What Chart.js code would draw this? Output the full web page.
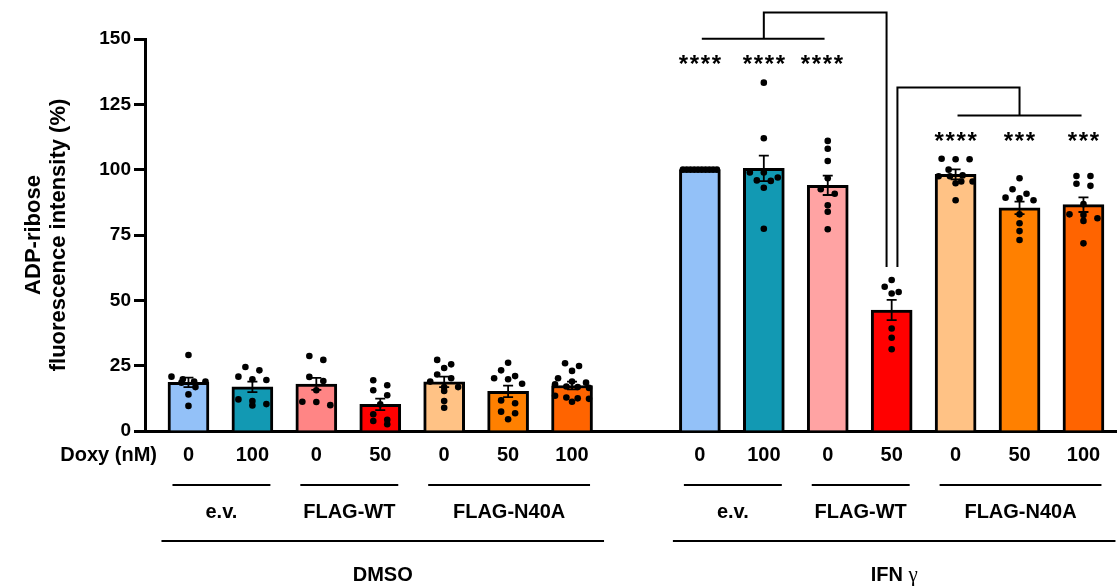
<!DOCTYPE html>
<html>
<head>
<meta charset="utf-8">
<script src="https://cdn.jsdelivr.net/npm/chart.js@4.4.1/dist/chart.umd.min.js"></script>
<style>
html,body{margin:0;padding:0;background:#fff;}
#wrap{width:1120px;height:586px;position:relative;}
</style>
</head>
<body>
<div id="wrap"><canvas id="c"></canvas></div>
<script>
// ---------------- data ----------------
const TREATMENTS = ['DMSO', 'IFN γ'];
const DOSE_LABEL = 'Doxy (nM)';
const DOSES = ['0', '100', '0', '50', '0', '50', '100'];
const CONSTRUCTS = ['e.v.', 'FLAG-WT', 'FLAG-N40A'];
const CONSTRUCT_OF_BAR = [0, 0, 1, 1, 2, 2, 2];

const DMSO_MEAN = [18.6, 16.9, 18.0, 10.2, 18.8, 15.2, 17.4];
const DMSO_SEM  = [1.8, 2.0, 2.3, 2.2, 2.0, 2.2, 1.5];
const DMSO_POINTS = [
  [29.1, 18.9, 18.9, 20.8, 19.8, 16.8, 14.0, 9.6, 18.5],
  [24.5, 23.2, 19.5, 19.8, 20.8, 12.1, 11.5, 10.3, 9.8],
  [28.7, 27.2, 19.1, 20.7, 15.6, 11.2, 11.1, 9.9],
  [19.4, 17.5, 15.6, 13.7, 10.2, 6.4, 4.3, 3.8, 2.6],
  [27.2, 25.5, 24.1, 21.6, 20.2, 18.9, 16.8, 16.8, 15.3, 11.5, 8.9],
  [26.1, 23.2, 21.0, 20.2, 19.8, 18.1, 11.7, 10.6, 7.4, 6.8, 4.5],
  [25.9, 24.9, 23.0, 20.2, 18.9, 18.5, 17.9, 17.0, 16.8, 16.5, 13.5, 12.8, 12.5, 12.3, 11.2]
];

const IFN_MEAN = [100, 100.5, 94.0, 46.3, 98.2, 85.4, 86.6];
const IFN_SEM  = [0, 4.9, 3.7, 3.9, 1.9, 2.4, 2.8];
const IFN_POINTS = [
  [100, 100, 100, 100, 100, 100, 100, 100, 100, 100],
  [133.3, 112.0, 98.9, 98.9, 97.0, 95.9, 95.7, 93.1, 77.4],
  [111.0, 108.0, 103.3, 96.7, 92.5, 90.8, 86.4, 83.9, 77.2],
  [57.8, 55.2, 53.2, 52.6, 39.2, 35.7, 31.3],
  [104.2, 104.0, 104.0, 100.0, 97.5, 97.8, 95.5, 95.5, 97.5, 94.8, 88.3],
  [96.7, 92.5, 90.8, 89.3, 89.0, 88.3, 82.9, 79.5, 76.5, 73.1],
  [97.6, 97.6, 94.6, 93.8, 86.8, 82.9, 82.7, 81.4, 80.4, 71.8]
];
const IFN_STARS = ['****', '****', '****', '', '****', '***', '***'];

// ---------------- styles / layout ----------------
const FONT = '"Liberation Sans", Arial, Helvetica, sans-serif';
const DMSO_COLORS = ['#93c1f8', '#1299b3', '#ff8585', '#ff0000', '#ffc285', '#ff8000', '#ff6400'];
const IFN_COLORS  = ['#93c1f8', '#1299b3', '#ffa3a3', '#ff0000', '#ffc285', '#ff8000', '#ff6400'];
const GAP_SLOTS = 1;
const X_MIN = -0.68, X_MAX = 14.52;
const PX_PER_SLOT = 64, PX_PER_UNIT_Y = 392 / 150;
const DOT_R = 3.3, ROW_PX = 6, MAX_STEP = 14, ROW_SPAN = 34;

const slot = (t, i) => t * (DOSES.length + GAP_SLOTS) + i;
const MEANS = [DMSO_MEAN, IFN_MEAN];
const SEMS = [DMSO_SEM, IFN_SEM];
const POINTS = [DMSO_POINTS, IFN_POINTS];
const COLORS = [DMSO_COLORS, IFN_COLORS];

// arrange points of one column in horizontal rows (scatter-dot-plot style)
function rowOffsets(vals) {
  const order = vals.map((v, i) => ({ v, i })).sort((a, b) => b.v - a.v);
  const rows = [];
  for (const p of order) {
    const r = rows[rows.length - 1];
    if (r && (r.top - p.v) * PX_PER_UNIT_Y <= ROW_PX) r.items.push(p);
    else rows.push({ top: p.v, items: [p] });
  }
  const out = new Array(vals.length);
  rows.forEach(r => {
    const n = r.items.length;
    const step = n > 1 ? Math.min(MAX_STEP, ROW_SPAN / (n - 1)) : 0;
    r.items.forEach((p, k) => { out[p.i] = (k - (n - 1) / 2) * step; });
  });
  return out;
}

const barData = [], barColors = [], dotData = [], tickPos = [], tickLab = [];
for (let t = 0; t < 2; t++) {
  for (let i = 0; i < DOSES.length; i++) {
    const x = slot(t, i);
    barData.push({ x, y: MEANS[t][i] });
    barColors.push(COLORS[t][i]);
    tickPos.push(x);
    tickLab.push(DOSES[i]);
    const offs = rowOffsets(POINTS[t][i]);
    POINTS[t][i].forEach((v, j) => dotData.push({ x: x + offs[j] / PX_PER_SLOT, y: v }));
  }
}

// ---------------- annotations ----------------
const BRACKETS = [
  [[8.03, 150.1], [9.95, 150.1]],
  [[9, 150.1], [9, 160.1], [10.92, 160.1], [10.92, 62.8]],
  [[11.09, 62.8], [11.09, 131.4], [13, 131.4], [13, 120.7]],
  [[12.03, 120.7], [13.97, 120.7]]
];
const STAR_LEVEL = [142, 142, 142, null, 112.5, 112.5, 112.5];
const STAR_SHIFT = [0, 0, -0.09, 0, 0, 0, 0];

const annot = {
  id: 'annot',
  afterDatasetsDraw(chart) {
    const { ctx } = chart, xs = chart.scales.x, ys = chart.scales.y;
    ctx.save();
    ctx.strokeStyle = '#000';
    ctx.lineWidth = 1.8;
    for (let t = 0; t < 2; t++) {
      for (let i = 0; i < DOSES.length; i++) {
        const s = SEMS[t][i];
        if (!s) continue;
        const m = MEANS[t][i];
        const x = xs.getPixelForValue(slot(t, i));
        const y1 = ys.getPixelForValue(m + s), y2 = ys.getPixelForValue(m - s);
        ctx.beginPath();
        ctx.moveTo(x, y1); ctx.lineTo(x, y2);
        ctx.moveTo(x - 5, y1); ctx.lineTo(x + 5, y1);
        ctx.moveTo(x - 5, y2); ctx.lineTo(x + 5, y2);
        ctx.stroke();
      }
    }
    ctx.restore();
  },
  afterDraw(chart) {
    const { ctx, chartArea } = chart, xs = chart.scales.x, ys = chart.scales.y;
    const px = v => xs.getPixelForValue(v), py = v => ys.getPixelForValue(v);
    ctx.save();
    ctx.strokeStyle = '#000';
    ctx.fillStyle = '#000';
    ctx.lineWidth = 2;
    ctx.lineCap = 'butt';
    ctx.lineJoin = 'miter';
    BRACKETS.forEach(path => {
      ctx.beginPath();
      path.forEach(([x, y], k) => k ? ctx.lineTo(px(x), py(y)) : ctx.moveTo(px(x), py(y)));
      ctx.stroke();
    });
    ctx.font = 'bold 24px ' + FONT;
    ctx.textAlign = 'center';
    ctx.textBaseline = 'alphabetic';
    IFN_STARS.forEach((s, i) => {
      if (!s) return;
      const cx = px(slot(1, i) + STAR_SHIFT[i]);
      const cy = py(STAR_LEVEL[i]);
      const step = 11;
      for (let k = 0; k < s.length; k++) {
        ctx.fillText('*', cx + (k - (s.length - 1) / 2) * step, cy + 12);
      }
    });
    const base = chartArea.bottom;
    ctx.font = 'bold 20px ' + FONT;
    ctx.textAlign = 'right';
    ctx.fillText(DOSE_LABEL, 157, base + 30);
    ctx.textAlign = 'center';
    for (let t = 0; t < 2; t++) {
      CONSTRUCTS.forEach((name, g) => {
        const idx = CONSTRUCT_OF_BAR.map((c, i) => c === g ? i : -1).filter(i => i >= 0);
        const x1 = px(slot(t, idx[0])) - 16, x2 = px(slot(t, idx[idx.length - 1])) + 18;
        ctx.beginPath();
        ctx.moveTo(x1, base + 54); ctx.lineTo(x2, base + 54);
        ctx.stroke();
        ctx.fillText(name, (x1 + x2) / 2, base + 86.5);
      });
      const x1 = px(slot(t, 0)) - 27, x2 = px(slot(t, DOSES.length - 1)) + 32;
      ctx.beginPath();
      ctx.moveTo(x1, base + 110); ctx.lineTo(x2, base + 110);
      ctx.stroke();
      const cx = (x1 + x2) / 2, by = base + 150;
      const label = TREATMENTS[t];
      const sp = label.indexOf(' ');
      if (sp >= 0) {
        const a = label.slice(0, sp + 1), b = label.slice(sp + 1);
        ctx.font = 'bold 20px ' + FONT;
        const wa = ctx.measureText(a).width;
        ctx.font = '21px "Liberation Serif", "DejaVu Serif", serif';
        const wb = ctx.measureText(b).width;
        const start = cx - (wa + wb) / 2;
        ctx.textAlign = 'left';
        ctx.font = 'bold 20px ' + FONT;
        ctx.fillText(a, start, by);
        ctx.font = '21px "Liberation Serif", "DejaVu Serif", serif';
        ctx.fillText(b, start + wa, by);
        ctx.textAlign = 'center';
        ctx.font = 'bold 20px ' + FONT;
      } else {
        ctx.fillText(label, cx, by);
      }
    }
    ctx.restore();
  }
};

new Chart(document.getElementById('c'), {
  type: 'bar',
  data: {
    datasets: [
      {
        type: 'bar', data: barData, backgroundColor: barColors, borderColor: '#000',
        borderWidth: 3, borderSkipped: 'start', barThickness: 41, order: 2
      },
      {
        type: 'scatter', data: dotData, backgroundColor: '#000', borderWidth: 0,
        pointRadius: DOT_R, pointHoverRadius: DOT_R, order: 1
      }
    ]
  },
  options: {
    responsive: true,
    maintainAspectRatio: false,
    animation: false,
    devicePixelRatio: 1,
    layout: { padding: { left: 0, right: 2, top: 39, bottom: 0 } },
    plugins: { legend: { display: false }, tooltip: { enabled: false } },
    scales: {
      x: {
        type: 'linear', min: X_MIN, max: X_MAX, offset: false,
        afterBuildTicks(s) { s.ticks = tickPos.map(v => ({ value: v })); },
        ticks: {
          autoSkip: false, maxRotation: 0, minRotation: 0,
          callback: (v, i) => tickLab[i],
          color: '#000', font: { family: FONT, size: 20, weight: 'bold' }, padding: 12
        },
        grid: { display: false, drawTicks: false },
        border: { display: true, color: '#000', width: 3 },
        afterFit(s) { s.height = 155; }
      },
      y: {
        min: 0, max: 150,
        ticks: { stepSize: 25, color: '#000', font: { family: FONT, size: 19, weight: 'bold' }, padding: 3 },
        grid: { display: true, drawOnChartArea: false, drawTicks: true, tickLength: 11, tickWidth: 3, tickColor: '#000' },
        border: { display: true, color: '#000', width: 3 },
        title: {
          display: true, text: ['ADP-ribose', 'fluorescence intensity (%)'], color: '#000',
          font: { family: FONT, size: 22, weight: 'bold', lineHeight: 1.14 },
          padding: { top: 21, bottom: 0 }
        },
        afterFit(s) { s.width = 145; }
      }
    }
  },
  plugins: [annot]
});
</script>
</body>
</html>
